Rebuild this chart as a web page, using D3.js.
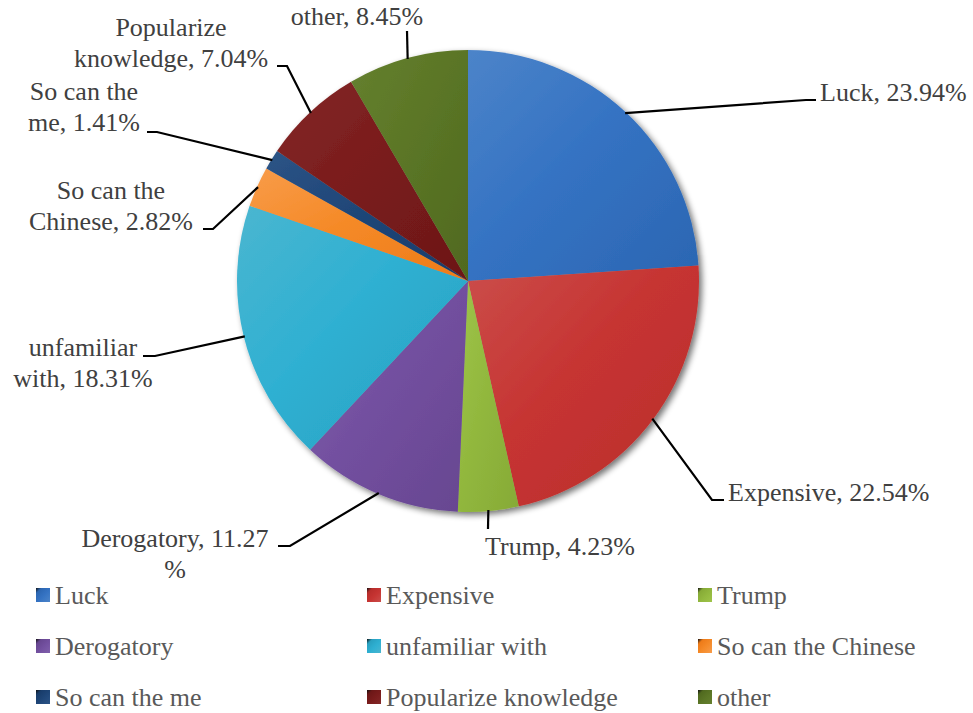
<!DOCTYPE html>
<html>
<head>
<meta charset="utf-8">
<script src="https://cdn.jsdelivr.net/npm/d3@7"></script>
<style>
  html, body { margin: 0; padding: 0; background: #fff; }
  svg { display: block; }
</style>
</head>
<body>
<script>
// Survey answers and their shares (%)
const categories = ["Luck", "Expensive", "Trump", "Derogatory", "unfamiliar with",
  "So can the Chinese", "So can the me", "Popularize knowledge", "other"];
const values = [23.94, 22.54, 4.23, 11.27, 18.31, 2.82, 1.41, 7.04, 8.45];

// Slice colours: base, lighter edge, darker edge
const baseColors  = ["#3573c3", "#c63432", "#92b83e", "#7350a0", "#2fb0d2", "#f58a28", "#1f4678", "#7a1c1c", "#5b7626"];
const lightColors = ["#4c84c9", "#cb4d4a", "#9fc44a", "#8060ab", "#4ab6d0", "#f89c4a", "#2c5486", "#832828", "#65802f"];
const darkColors  = ["#2b66b2", "#b82d2b", "#86aa36", "#674690", "#28a0c0", "#ee7b18", "#183c6a", "#6c1717", "#50691f"];

// Label text lines for each slice
const labelLines = [
  ["Luck, 23.94%"],
  ["Expensive, 22.54%"],
  ["Trump, 4.23%"],
  ["Derogatory, 11.27", "%"],
  ["unfamiliar", "with, 18.31%"],
  ["So can the", "Chinese, 2.82%"],
  ["So can the", "me, 1.41%"],
  ["Popularize", "knowledge, 7.04%"],
  ["other, 8.45%"]
];

const W = 973, H = 713;
const cx = 468, cy = 281, R = 231;
const FONT = '"Liberation Serif"';

// Label layout: leader elbow, leader end, text anchor point and alignment
const labelLayout = [
  { elbow: [806, 100], end: [816, 100], tx: 820, ty: 101, anchor: "start" },
  { elbow: [712, 500], end: [724, 500], tx: 728, ty: 501, anchor: "start" },
  { elbow: [488, 529], end: null,       tx: 485, ty: 555, anchor: "start" },
  { elbow: [290, 546], end: [278, 546], tx: 175, ty: 547, anchor: "middle" },
  { elbow: [155, 356], end: [143, 356], tx: 83,  ty: 356, anchor: "middle" },
  { elbow: [213, 229], end: [203, 229], tx: 111, ty: 199, anchor: "middle" },
  { elbow: [157, 132], end: [147, 132], tx: 84,  ty: 100, anchor: "middle" },
  { elbow: [287, 66],  end: [277, 66],  tx: 171, ty: 36,  anchor: "middle" },
  { elbow: [407, 31],  end: null,       tx: 357, ty: 25,  anchor: "middle" }
];
const lineGap = 30.5;

const svg = d3.select("body").append("svg")
  .attr("width", W).attr("height", H);

const defs = svg.append("defs");

// soft drop shadow under the pie
const shadow = defs.append("filter").attr("id", "pieShadow")
  .attr("x", "-10%").attr("y", "-10%").attr("width", "125%").attr("height", "125%");
shadow.append("feGaussianBlur").attr("in", "SourceAlpha").attr("stdDeviation", 3).attr("result", "blur");
shadow.append("feOffset").attr("in", "blur").attr("dx", 3).attr("dy", 3).attr("result", "off");
shadow.append("feComponentTransfer").attr("in", "off").attr("result", "shade")
  .append("feFuncA").attr("type", "linear").attr("slope", 0.55);
const merge = shadow.append("feMerge");
merge.append("feMergeNode").attr("in", "shade");
merge.append("feMergeNode").attr("in", "SourceGraphic");

// per-slice gradients
categories.forEach((c, i) => {
  const g = defs.append("linearGradient").attr("id", "grad" + i)
    .attr("x1", 0).attr("y1", 0).attr("x2", 1).attr("y2", 1);
  g.append("stop").attr("offset", "0%").attr("stop-color", lightColors[i]);
  g.append("stop").attr("offset", "45%").attr("stop-color", baseColors[i]);
  g.append("stop").attr("offset", "100%").attr("stop-color", darkColors[i]);

  const lg = defs.append("linearGradient").attr("id", "lgrad" + i)
    .attr("x1", 0).attr("y1", 0).attr("x2", 1).attr("y2", 1);
  lg.append("stop").attr("offset", "0%").attr("stop-color", "#111");
  lg.append("stop").attr("offset", "20%").attr("stop-color", darkColors[i]);
  lg.append("stop").attr("offset", "55%").attr("stop-color", baseColors[i]);
  lg.append("stop").attr("offset", "100%").attr("stop-color", lightColors[i]);
});

const data = categories.map((c, i) => ({ name: c, value: values[i], i }));

const pie = d3.pie().value(d => d.value).sort(null).startAngle(0).endAngle(2 * Math.PI);
const arcs = pie(data);
const arc = d3.arc().innerRadius(0).outerRadius(R);
const edgeArc = d3.arc().innerRadius(R - 1).outerRadius(R - 1);

const pieG = svg.append("g").attr("transform", `translate(${cx},${cy})`)
  .attr("filter", "url(#pieShadow)");

pieG.selectAll("path.slice").data(arcs).enter().append("path")
  .attr("class", "slice")
  .attr("d", arc)
  .attr("fill", d => `url(#grad${d.data.i})`);

// leader lines
const leaderG = svg.append("g");
arcs.forEach((a, i) => {
  const c = edgeArc.centroid(a);
  const start = [cx + c[0], cy + c[1]];
  const L = labelLayout[i];
  const pts = [start, L.elbow];
  if (L.end) pts.push(L.end);
  leaderG.append("path")
    .attr("d", d3.line()(pts))
    .attr("fill", "none")
    .attr("stroke", "#000")
    .attr("stroke-width", 2.2);
});

// data labels
labelLines.forEach((lines, i) => {
  const L = labelLayout[i];
  lines.forEach((ln, k) => {
    svg.append("text")
      .attr("x", L.tx).attr("y", L.ty + k * lineGap)
      .attr("text-anchor", L.anchor)
      .style("font-family", FONT)
      .style("font-size", "26px")
      .style("fill", "#404040")
      .text(ln);
  });
});

// legend: 3 columns x 3 rows
const colX = [36, 367, 698];
const rowY = [604, 655, 706];
data.forEach((d, i) => {
  const x = colX[i % 3], y = rowY[Math.floor(i / 3)];
  svg.append("rect")
    .attr("x", x).attr("y", y - 16).attr("width", 14).attr("height", 14)
    .attr("fill", `url(#lgrad${i})`);
  svg.append("text").attr("x", x + 19).attr("y", y)
    .style("font-family", FONT)
    .style("font-size", "26px")
    .style("fill", "#595959")
    .text(d.name);
});
</script>
</body>
</html>
